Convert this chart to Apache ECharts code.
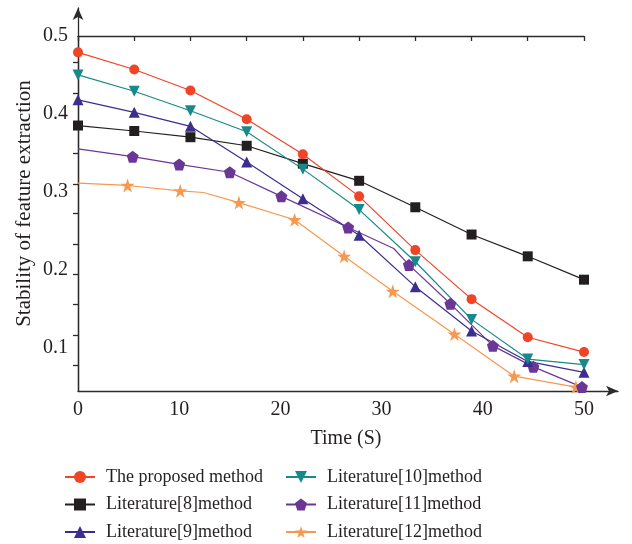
<!DOCTYPE html>
<html>
<head>
<meta charset="utf-8">
<script src="https://cdn.jsdelivr.net/npm/echarts@6/dist/echarts.min.js"></script>
<style>
  html, body { margin: 0; padding: 0; background: #fff; }
  #main { width: 632px; height: 544px; }
</style>
</head>
<body>
<div id="main"></div>
<script>
// ── Данные ───────────────────────────────────────────────────────────────────
var seriesNames = [
  'The proposed method', 'Literature[8]method', 'Literature[9]method',
  'Literature[10]method', 'Literature[11]method', 'Literature[12]method'
];

// общая сетка по времени (9 равных шагов на 0..50)
var timeX = [0, 5.56, 11.11, 16.67, 22.22, 27.78, 33.33, 38.89, 44.44, 50];

var proposedY = [0.479, 0.457, 0.430, 0.393, 0.348, 0.294, 0.225, 0.162, 0.113, 0.094];
var lit8Y     = [0.385, 0.378, 0.370, 0.359, 0.336, 0.314, 0.280, 0.245, 0.217, 0.187];
var lit9Y     = [0.418, 0.402, 0.384, 0.338, 0.291, 0.244, 0.178, 0.121, 0.082, 0.068];
var lit10Y    = [0.450, 0.429, 0.404, 0.377, 0.329, 0.277, 0.210, 0.136, 0.085, 0.078];

// у [11] и [12] свои точки по времени; часть вершин без маркера
var lit11X = [0, 5.4, 10.0, 15.0, 20.1, 26.7, 31.2, 32.7, 36.8, 41.0, 45.0, 49.8];
var lit11Y = [0.355, 0.345, 0.335, 0.325, 0.294, 0.254, 0.227, 0.206, 0.156, 0.102, 0.075, 0.049];
var lit11Bare = [0, 6];

var lit12X = [0, 4.9, 10.1, 12.4, 15.9, 21.4, 26.3, 31.1, 37.2, 43.1, 49.2];
var lit12Y = [0.311, 0.308, 0.301, 0.299, 0.286, 0.264, 0.217, 0.172, 0.117, 0.063, 0.049];
var lit12Bare = [0, 3];

var xTicks = [0, 10, 20, 30, 40, 50];
var yTicks = [0.1, 0.2, 0.3, 0.4, 0.5];
// мелкие засечки правой рамки (в единицах левой оси)
var rightTicks = [0.077, 0.116, 0.155, 0.194, 0.233, 0.272, 0.310, 0.349, 0.388, 0.427, 0.466];

// ── Оформление ───────────────────────────────────────────────────────────────
var FONT = '"Liberation Serif", "DejaVu Serif", serif';
var AXIS = '#2b2b2b';
var TEXT = '#231f20';
var colors = ['#ef4426', '#231f20', '#3b2e8e', '#17898a', '#6b3797', '#f79850'];

var STAR = 'path://M50,0 L61.2,34.5 L97.6,34.5 L68.2,55.9 L79.4,90.5 L50,69.1 L20.6,90.5 L31.8,55.9 L2.4,34.5 L38.8,34.5 Z';
var PENTA = 'path://M50,0 L97.6,34.5 L79.4,90.5 L20.6,90.5 L2.4,34.5 Z';

function zip(xs, ys, bare) {
  return xs.map(function (x, i) {
    var item = { value: [x, ys[i]] };
    if (bare && bare.indexOf(i) >= 0) item.symbol = 'none';
    return item;
  });
}

function lineSeries(idx, data, symbol, size, rotate) {
  return {
    name: seriesNames[idx],
    type: 'line',
    xAxisIndex: 0,
    yAxisIndex: 0,
    data: data,
    symbol: symbol,
    symbolSize: size,
    symbolRotate: rotate || 0,
    showAllSymbol: true,
    clip: false,
    color: colors[idx],
    lineStyle: { color: colors[idx], width: 1.2 },
    itemStyle: { color: colors[idx] },
    animation: false
  };
}

var chart = echarts.init(document.getElementById('main'));

var legendBase = {
  orient: 'vertical', top: 467, padding: 0,
  itemWidth: 30, itemHeight: 15, itemGap: 7.5,
  textStyle: { fontFamily: FONT, fontSize: 18, color: TEXT, lineHeight: 20, padding: [0, 0, 0, 6] }
};

chart.setOption({
  animation: false,
  backgroundColor: '#fff',
  textStyle: { fontFamily: FONT },
  grid: [
    // основная область (рамка 0..50 × 0.044..0.5)
    { left: 78, right: 48, top: 36, bottom: 153, outerBoundsMode: 'none', containLabel: false },
    // оси со стрелками, чуть длиннее рамки
    { left: 78, right: 14, top: 8, bottom: 153, outerBoundsMode: 'none', containLabel: false }
  ],
  xAxis: [
    {
      gridIndex: 0, type: 'value', position: 'bottom',
      min: 0, max: 50,
      name: 'Time (S)', nameLocation: 'middle', nameGap: 38, nameMoveOverlap: false,
      nameTextStyle: { fontFamily: FONT, fontSize: 20, color: TEXT, padding: [0, 0, 0, 30] },
      axisLine: { show: false }, axisTick: { show: false }, splitLine: { show: false },
      axisLabel: {
        fontFamily: FONT, fontSize: 20, color: TEXT, margin: 9,
        customValues: xTicks
      }
    },
    {
      gridIndex: 0, type: 'value', position: 'top',
      min: 0, max: 50,
      axisLine: { show: true, lineStyle: { color: AXIS, width: 1.3 } },
      axisTick: { show: true, inside: true, length: 5, customValues: timeX, lineStyle: { color: AXIS, width: 1.3 } },
      axisLabel: { show: false }, splitLine: { show: false }
    },
    {
      gridIndex: 1, type: 'value', position: 'bottom', min: 0, max: 1,
      axisLine: { show: true, symbol: ['none', 'arrow'], symbolSize: [8, 12], lineStyle: { color: AXIS, width: 1.3 } },
      axisTick: { show: false }, axisLabel: { show: false }, splitLine: { show: false }
    }
  ],
  yAxis: [
    {
      gridIndex: 0, type: 'value', position: 'left',
      min: 0.044, max: 0.5,
      name: 'Stability of feature extraction', nameLocation: 'middle', nameGap: 43, nameMoveOverlap: false,
      nameTextStyle: { fontFamily: FONT, fontSize: 21, color: TEXT, padding: [0, 0, 0, 20] },
      axisLine: { show: false }, axisTick: { show: false }, splitLine: { show: false },
      axisLabel: {
        fontFamily: FONT, fontSize: 20, color: TEXT, margin: 10,
        customValues: yTicks,
        formatter: function (v) { return v.toFixed(1); }
      }
    },
    {
      gridIndex: 0, type: 'value', position: 'right',
      min: 0.044, max: 0.5,
      axisLine: { show: true, lineStyle: { color: AXIS, width: 1.3 } },
      axisTick: { show: true, inside: true, length: 5, customValues: rightTicks, lineStyle: { color: AXIS, width: 1.3 } },
      axisLabel: { show: false }, splitLine: { show: false }
    },
    {
      gridIndex: 1, type: 'value', position: 'left', min: 0, max: 1,
      axisLine: { show: true, symbol: ['none', 'arrow'], symbolSize: [8, 12], lineStyle: { color: AXIS, width: 1.3 } },
      axisTick: { show: false }, axisLabel: { show: false }, splitLine: { show: false }
    }
  ],
  legend: [
    Object.assign({ data: seriesNames.slice(0, 3), left: 64 }, legendBase),
    Object.assign({ data: seriesNames.slice(3, 6), left: 285 }, legendBase)
  ],
  series: [
    lineSeries(1, zip(timeX, lit8Y), 'rect', 10),
    lineSeries(5, zip(lit12X, lit12Y, lit12Bare), STAR, 14),
    lineSeries(4, zip(lit11X, lit11Y, lit11Bare), PENTA, 12),
    lineSeries(2, zip(timeX, lit9Y), 'triangle', 11),
    lineSeries(3, zip(timeX, lit10Y), 'triangle', 11, 180),
    lineSeries(0, zip(timeX, proposedY), 'circle', 10)
  ]
});
</script>
</body>
</html>
